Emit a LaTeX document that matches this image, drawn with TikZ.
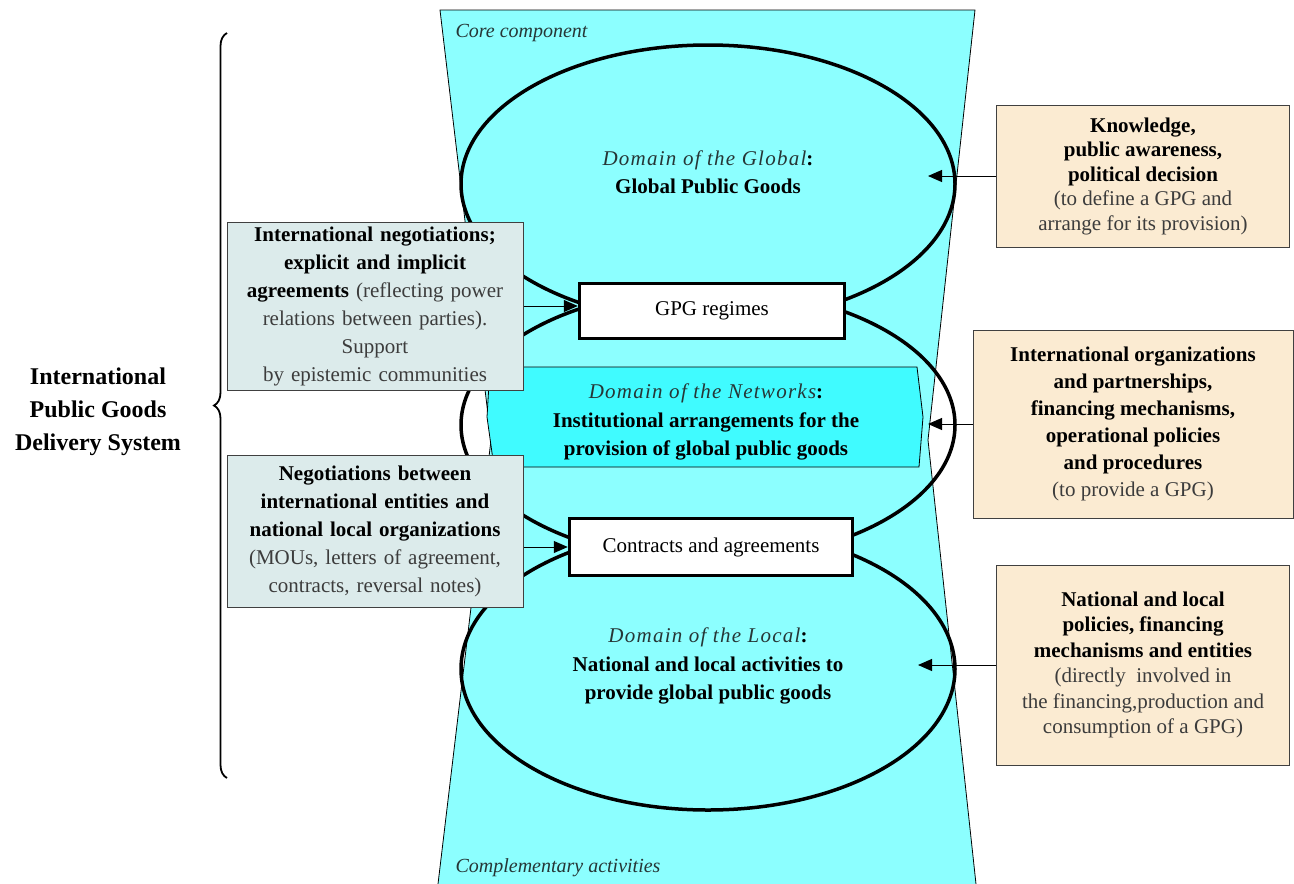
\documentclass[tikz,border=0pt]{standalone}
\usepackage{fontspec}
\setmainfont{Liberation Serif}
\newfontfamily\spacedfont{Liberation Serif}[LetterSpace=6]
\usetikzlibrary{arrows.meta,positioning,shapes.geometric,decorations.pathreplacing}
\definecolor{core}{HTML}{8CFFFF}
\definecolor{netfill}{HTML}{40FBFF}
\definecolor{negfill}{HTML}{DCEBEB}
\definecolor{inpfill}{HTML}{FBEBD2}
\definecolor{soft}{HTML}{3C3C3C}
\definecolor{domtxt}{HTML}{263636}
\newcommand{\domname}[1]{{\spacedfont\itshape\color{domtxt}#1}}

\tikzset{
  sphere/.style={ellipse,draw=black,line width=3.5pt,minimum width=494pt,inner sep=0pt},
  regime/.style={draw=black,fill=white,line width=3.5pt,inner sep=0pt,
    font=\fontsize{21}{26}\selectfont},
  sidebox/.style={draw=black!75,fill=negfill,line width=1pt,align=center,inner sep=0pt,
    minimum width=296pt,text width=290pt,font=\fontsize{21}{28}\selectfont},
  inputbox/.style={draw=black!75,fill=inpfill,line width=1pt,align=center,inner sep=0pt},
  spheretext/.style={align=center,font=\fontsize{21}{28.5}\selectfont},
  pointer/.style={-{Triangle[length=14pt,width=12pt]},line width=1pt},
}

\begin{document}
\begin{tikzpicture}[x=1pt,y=-1pt]
  \useasboundingbox (0,0) rectangle (1294,884);
  \fill[white] (0,0) rectangle (1294,884);
  % hourglass band
  \fill[core] (440,10) -- (975,10) -- (928,440) -- (976,884)
    -- (438,884) -- (491,440) -- cycle;
  \draw[line width=0.8pt] (438,884) -- (491,440) -- (440,10) -- (975,10) -- (928,440) -- (976,884);
  \node[anchor=west,font=\fontsize{20}{24}\selectfont\itshape,text=domtxt] (corelbl) at (452,33) {Core component};
  \node[anchor=west,font=\fontsize{20}{24}\selectfont\itshape,text=domtxt] (complbl) at (452,868) {Complementary activities};
  % networks band
  \draw[fill=netfill,line width=0.8pt] (490,367) -- (917,367) -- (923,417) -- (919,467)
    -- (494,467) -- (487,417) -- cycle;
  % three domains
  \node[sphere,minimum height=278pt] (glob) at (708,184) {};
  \node[sphere,minimum height=272pt] (netw) at (708,425) {};
  \node[sphere,minimum height=282pt] (local) at (708,669) {};
  \node[spheretext] (globtxt) at (708,172) {\domname{Domain of the Global}\textbf{:}\\\textbf{Global Public Goods}};
  \node[spheretext] (netwtxt) at (706,422) {\domname{Domain of the Networks}\textbf{:}\\
    \textbf{Institutional arrangements for the}\\\textbf{provision of global public goods}};
  \node[spheretext] (localtxt) at (708,666) {\domname{Domain of the Local}\textbf{:}\\
    \textbf{National and local activities to}\\\textbf{provide global public goods}};
  % regimes and contracts
  \node[regime,minimum width=265pt,minimum height=55pt] (regime) at (712,311) {GPG regimes};
  \node[regime,minimum width=283pt,minimum height=57pt] (contr) at (711,547) {Contracts and agreements};
  % negotiation boxes
  \node[sidebox,minimum height=168pt] (negot) at (375,306)
    {\textbf{International negotiations;}\\\textbf{explicit and implicit}\\
     \textbf{agreements} {\color{soft}(reflecting power}\\{\color{soft}relations between parties).}\\
     {\color{soft}Support}\\{\color{soft}by epistemic communities}};
  \node[sidebox,minimum height=152pt] (agree) at (375,531)
    {\textbf{Negotiations between}\\\textbf{international entities and}\\
     \textbf{national local organizations}\\{\color{soft}(MOUs, letters of agreement,}\\
     {\color{soft}contracts, reversal notes)}};
  \draw[pointer] (negot.east) -- (negot.east -| regime.west);
  \draw[pointer] (contr.west -| agree.east) -- (contr.west);
  % inputs on the right
  \node[inputbox,minimum width=293pt,minimum height=142pt,font=\fontsize{21}{24.5}\selectfont] (know) at (1143,176)
    {\textbf{Knowledge,}\\\textbf{public awareness,}\\\textbf{political decision}\\
     {\color{soft}(to define a GPG and}\\{\color{soft}arrange for its provision)}};
  \node[inputbox,minimum width=320pt,minimum height=188pt,font=\fontsize{21}{27}\selectfont] (orgs) at (1133,424)
    {\textbf{International organizations}\\\textbf{and partnerships,}\\\textbf{financing mechanisms,}\\
     \textbf{operational policies}\\\textbf{and procedures}\\{\color{soft}(to provide a GPG)}};
  \node[inputbox,minimum width=293pt,minimum height=200pt,font=\fontsize{21}{25.5}\selectfont] (natl) at (1143,665)
    {\textbf{National and local}\\\textbf{policies, financing}\\\textbf{mechanisms and entities}\\
     {\color{soft}(directly\ \ involved in}\\{\color{soft}the financing,production and}\\
     {\color{soft}consumption of a GPG)}};
  \coordinate (globin) at (928,176);
  \coordinate (netwin) at (928,424);
  \coordinate (localin) at (918,665);
  \draw[pointer] (know.west) -- (globin);
  \draw[pointer] (orgs.west) -- (netwin);
  \draw[pointer] (natl.west) -- (localin);
  % system label and brace
  \draw[decorate,decoration={brace,amplitude=13pt},line width=1.8pt] (227,778) -- (227,33);
  \node[align=center,font=\fontsize{24}{33}\selectfont\bfseries] (system) at (98,412)
    {International\\Public Goods\\Delivery System};
\end{tikzpicture}
\end{document}
